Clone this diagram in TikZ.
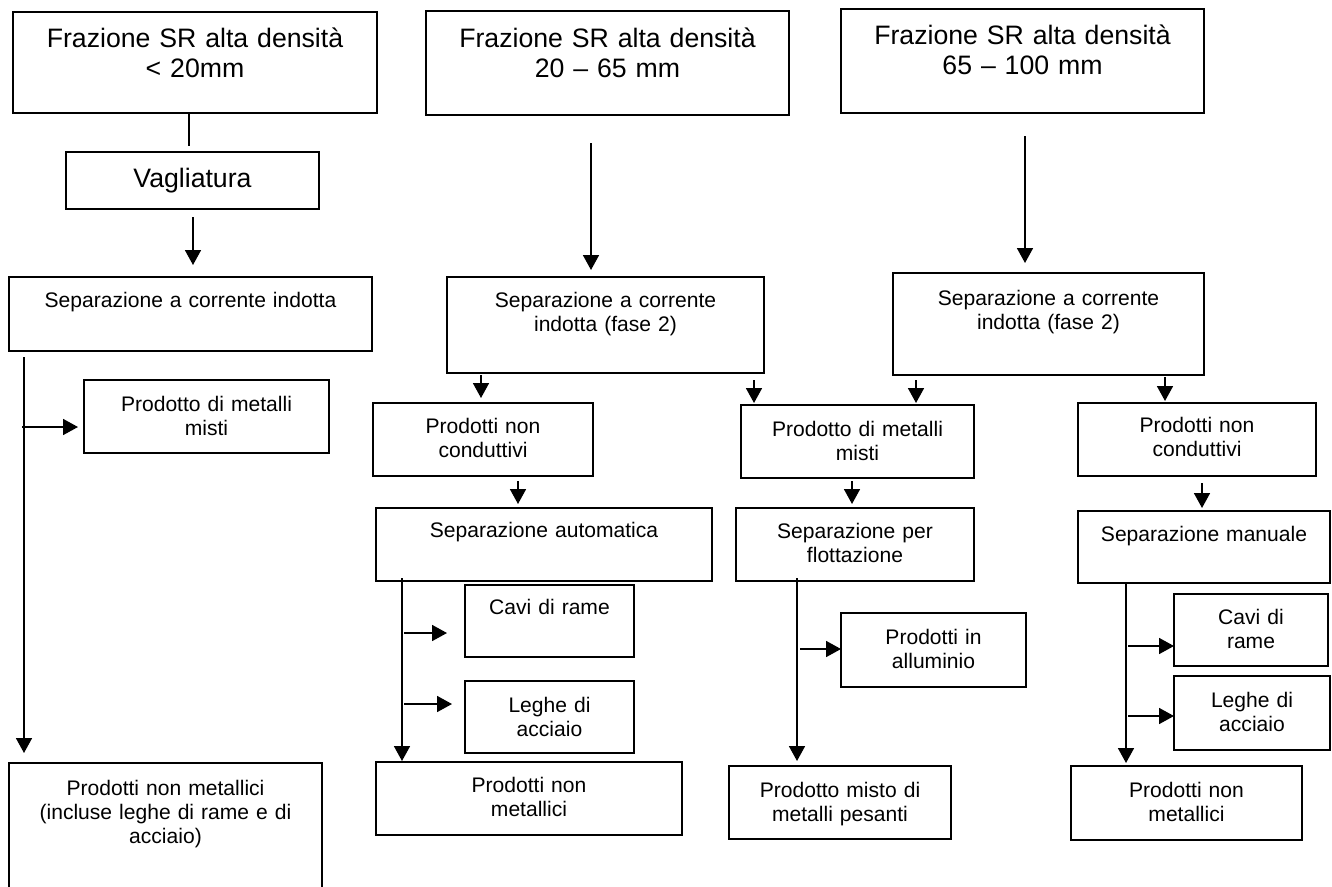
\documentclass[tikz,border=0pt]{standalone}
\usepackage{fontspec}
\setmainfont{Liberation Sans}
\usetikzlibrary{arrows.meta,calc}

\tikzset{
  box/.style={draw, line width=1.4pt, inner sep=0pt, outer sep=0pt},
  bigtext/.style={font=\fontsize{20pt}{22.5pt}\selectfont, inner sep=0pt, align=center, anchor=base},
  smalltext/.style={font=\fontsize{15.8pt}{18.2pt}\selectfont, inner sep=0pt, align=center, anchor=base},
  link/.style={line width=1.3pt},
  arr/.style={link, -{Triangle[length=11.25pt,width=12pt]}},
}

% box from (x1,y1) to (x2,y2) in pixel units, text with its first baseline at y = #7
\newcommand\flowbox[8][smalltext]{%
  \pgfmathsetmacro\fbw{(#5-#3)*0.75}%
  \pgfmathsetmacro\fbh{(#6-#4)*0.75}%
  \pgfmathsetmacro\fbt{(#5-#3-8)*0.75}%
  \node[box, minimum width=\fbw pt, minimum height=\fbh pt] (#2) at ({(#3+#5)/2},{(#4+#6)/2}) {};
  \node[#1, text width=\fbt pt] (#2-t) at ({(#3+#5)/2},#7) {#8};
}

\begin{document}
\begin{tikzpicture}[x=0.75pt, y=-0.75pt]
\useasboundingbox (0,0) rectangle (1332,886);

% column < 20 mm
\flowbox[bigtext]{A1}{13}{12}{377}{113}{47}{Frazione SR alta densità\\< 20mm}
\flowbox[bigtext]{vag}{66}{152}{319}{209}{187}{Vagliatura}
\flowbox{sepL}{9}{277}{372}{351}{307}{Separazione a corrente indotta}
\flowbox{pmmL}{84}{380}{329}{453}{411}{Prodotto di metalli\\misti}
\flowbox{pnmL}{9}{763}{322}{892}{795}{Prodotti non metallici\\(incluse leghe di rame e di\\acciaio)}

% column 20 - 65 mm
\flowbox[bigtext]{A2}{426}{11}{789}{115}{47}{Frazione SR alta densità\\20 – 65 mm}
\flowbox{sep2}{447}{277}{764}{373}{307}{Separazione a corrente\\indotta (fase 2)}
\flowbox{pnc2}{373}{403}{593}{476}{433}{Prodotti non\\conduttivi}
\flowbox{sa}{376}{508}{712}{581}{537}{Separazione automatica}
\flowbox{cavi2}{465}{585}{634}{657}{614}{Cavi di rame}
\flowbox{leghe2}{465}{681}{634}{753}{712}{Leghe di\\acciaio}
\flowbox{pnm2}{376}{762}{682}{835}{792}{Prodotti non\\metallici}

% shared metal branch
\flowbox{pmm}{741}{405}{974}{478}{436}{Prodotto di metalli\\misti}
\flowbox{sf}{736}{508}{974}{581}{538}{Separazione per\\flottazione}
\flowbox{pia}{841}{613}{1026}{687}{644}{Prodotti in\\alluminio}
\flowbox{pmp}{729}{766}{951}{839}{797}{Prodotto misto di\\metalli pesanti}

% column 65 - 100 mm
\flowbox[bigtext]{A3}{841}{9}{1204}{113}{44}{Frazione SR alta densità\\65 – 100 mm}
\flowbox{sep3}{893}{273}{1204}{375}{305}{Separazione a corrente\\indotta (fase 2)}
\flowbox{pnc3}{1078}{403}{1316}{476}{432}{Prodotti non\\conduttivi}
\flowbox{sm}{1078}{511}{1330}{583}{541}{Separazione manuale}
\flowbox{cavi3}{1174}{594}{1328}{666}{624}{Cavi di\\rame}
\flowbox{leghe3}{1174}{676}{1330}{750}{707}{Leghe di\\acciaio}
\flowbox{pnm3}{1071}{766}{1302}{840}{797}{Prodotti non\\metallici}

% connectors, column < 20 mm
\draw[link, shorten >=4.5pt] (A1.south -| 189,0) -- (vag.north -| 189,0);
\draw[arr, shorten <=6pt, shorten >=9pt] (vag.south -| 193,0) -- (sepL.north -| 193,0);
\draw[arr, shorten <=4.5pt, shorten >=7.5pt] (sepL.south -| 24,0) -- (pnmL.north -| 24,0);
\coordinate (jL) at (22,427);
\draw[arr, shorten >=4.5pt] (jL) -- (pmmL.west |- jL);

% connectors, column 20 - 65 mm
\draw[arr, shorten <=21pt, shorten >=5.25pt] (A2.south -| 591,0) -- (sep2.north -| 591,0);
\draw[arr, shorten <=1.5pt, shorten >=3.75pt] (sep2.south -| 481,0) -- (pnc2.north -| 481,0);
\draw[arr, shorten <=3.75pt, shorten >=3pt] (pnc2.south -| 518,0) -- (sa.north -| 518,0);
\draw[arr, shorten <=-2.25pt, shorten >=0.75pt] (sa.south -| 402,0) -- (pnm2.north -| 402,0);
\coordinate (jM1) at (404,633);
\draw[arr, shorten >=13.5pt] (jM1) -- (cavi2.west |- jM1);
\coordinate (jM2) at (404,704);
\draw[arr, shorten >=9.75pt] (jM2) -- (leghe2.west |- jM2);

% connectors into the metal branch
\draw[arr, shorten <=5.25pt, shorten >=1.5pt] (sep2.south -| 754,0) -- (pmm.north -| 754,0);
\draw[arr, shorten <=3.75pt, shorten >=1.5pt] (sep3.south -| 916,0) -- (pmm.north -| 916,0);
\draw[arr, shorten <=2.25pt, shorten >=3pt] (pmm.south -| 852,0) -- (sf.north -| 852,0);
\draw[arr, shorten <=-2.25pt, shorten >=3.75pt] (sf.south -| 797,0) -- (pmp.north -| 797,0);
\coordinate (jF) at (800,649);
\draw[arr] (jF) -- (pia.west |- jF);

% connectors, column 65 - 100 mm
\draw[arr, shorten <=17.25pt, shorten >=7.5pt] (A3.south -| 1025,0) -- (sep3.north -| 1025,0);
\draw[arr, shorten <=1.5pt, shorten >=1.5pt] (sep3.south -| 1165,0) -- (pnc3.north -| 1165,0);
\draw[arr, shorten <=5.25pt, shorten >=2.25pt] (pnc3.south -| 1202,0) -- (sm.north -| 1202,0);
\draw[arr, shorten <=-0.75pt, shorten >=2.25pt] (sm.south -| 1126,0) -- (pnm3.north -| 1126,0);
\coordinate (jR1) at (1128,646);
\draw[arr] (jR1) -- (cavi3.west |- jR1);
\coordinate (jR2) at (1128,716);
\draw[arr] (jR2) -- (leghe3.west |- jR2);
\end{tikzpicture}
\end{document}
